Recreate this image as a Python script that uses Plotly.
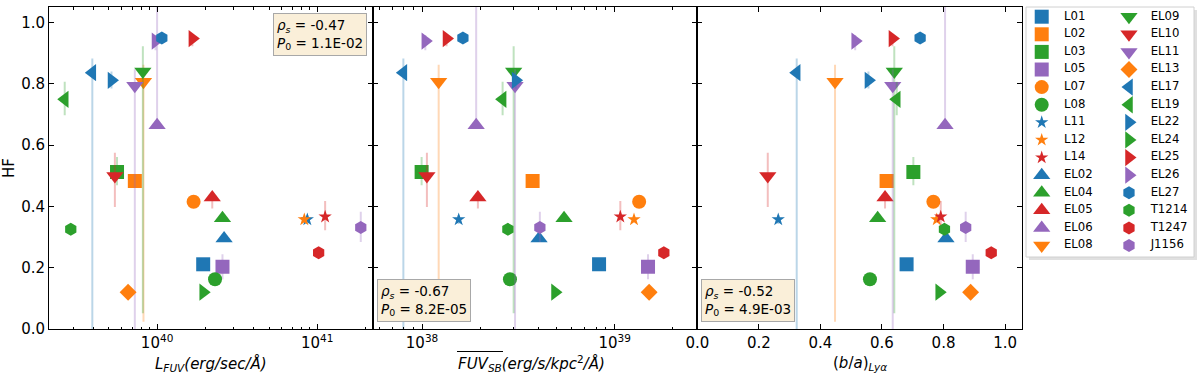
import plotly.graph_objects as go

# ---- data ----
names = ['L01', 'L02', 'L03', 'L05', 'L07', 'L08', 'L11', 'L12', 'L14',
         'EL02', 'EL04', 'EL05', 'EL06', 'EL08', 'EL09', 'EL10', 'EL11', 'EL13',
         'EL17', 'EL19', 'EL22', 'EL24', 'EL25', 'EL26', 'EL27',
         'T1214', 'T1247', 'J1156']
symbols = ['square', 'square', 'square', 'square', 'circle', 'circle', 'star', 'star', 'star',
           'triangle-up', 'triangle-up', 'triangle-up', 'triangle-up', 'triangle-down',
           'triangle-down', 'triangle-down', 'triangle-down', 'diamond',
           'triangle-left', 'triangle-left', 'triangle-right', 'triangle-right',
           'triangle-right', 'triangle-right', 'hexagon', 'hexagon', 'hexagon', 'hexagon']
colors = ['#1f77b4', '#ff7f0e', '#2ca02c', '#9467bd', '#ff7f0e', '#2ca02c', '#1f77b4', '#ff7f0e', '#d62728',
          '#1f77b4', '#2ca02c', '#d62728', '#9467bd', '#ff7f0e', '#2ca02c', '#d62728', '#9467bd', '#ff7f0e',
          '#1f77b4', '#2ca02c', '#1f77b4', '#2ca02c', '#d62728', '#9467bd', '#1f77b4',
          '#2ca02c', '#d62728', '#9467bd']

hf = [0.211, 0.483, 0.512, 0.203, 0.415, 0.162, 0.357, 0.357, 0.366,
      0.295, 0.361, 0.429, 0.664, 0.806, 0.840, 0.499, 0.793, 0.120,
      0.836, 0.749, 0.811, 0.120, 0.947, 0.939, 0.949,
      0.325, 0.249, 0.331]
hf_err_hi = [0.0, 0.0, 0.049, 0.041, 0.0, 0.0, 0.015, 0.0, 0.051,
             0.0, 0.0, 0.018, 0.60, 0.056, 0.082, 0.076, 0.054, 0.0,
             0.046, 0.057, 0.029, 0.0, 0.015, 0.020, 0.0,
             0.0, 0.0, 0.051]
hf_err_lo = [0.0, 0.0, 0.043, 0.041, 0.0, 0.0, 0.015, 0.0, 0.044,
             0.0, 0.0, 0.036, 0.010, 0.782, 0.789, 0.101, 1.0, 0.0,
             1.0, 0.052, 0.027, 0.0, 0.025, 0.030, 0.0,
             0.0, 0.0, 0.047]

l_fuv = [1.94e40, 7.26e39, 5.62e39, 2.56e40, 1.69e40, 2.30e40, 8.67e40, 8.30e40, 1.12e41,
         2.62e40, 2.56e40, 2.21e40, 1.00e40, 8.22e39, 8.15e39, 5.45e39, 7.26e39, 6.59e39,
         3.94e39, 2.65e39, 5.19e39, 1.94e40, 1.66e40, 9.77e39, 1.07e40,
         2.89e39, 1.02e41, 1.87e41]
fuv_sb = [8.30e38, 3.75e38, 9.95e37, 1.49e39, 1.34e39, 2.86e38, 1.55e38, 1.26e39, 1.07e39,
          4.05e38, 5.46e38, 1.95e38, 1.91e38, 1.22e38, 2.99e38, 1.06e38, 3.04e38, 1.51e39,
          8.00e37, 2.62e38, 3.06e38, 4.90e38, 1.34e38, 1.04e38, 1.63e38,
          2.79e38, 1.80e39, 4.09e38]
ba_lya = [0.680, 0.615, 0.702, 0.895, 0.767, 0.561, 0.263, 0.778, 0.791,
          0.808, 0.586, 0.610, 0.805, 0.4475, 0.640, 0.229, 0.635, 0.888,
          0.323, 0.648, 0.556, 0.786, 0.634, 0.513, 0.724,
          0.803, 0.955, 0.872]

rho_s = ['-0.47', '-0.67', '-0.52']
p_0 = ['1.1E-02', '8.2E-05', '4.9E-03']

x_titles = ['<i>L</i><sub><i>FUV</i></sub><i>(erg/sec/Å)</i>',
            '<i>FUV</i><sub><i>SB</i></sub><i>(erg/s/kpc</i><sup>2</sup><i>/Å)</i>',
            '(<i>b</i>/<i>a</i>)<sub><i>Lyα</i></sub>']
log_tickvals = [[1e40, 1e41], [1e38, 1e39]]
log_ticktext = [['10<sup>40</sup>', '10<sup>41</sup>'], ['10<sup>38</sup>', '10<sup>39</sup>']]
ba_ticks = [0.0, 0.2, 0.4, 0.6, 0.8, 1.0]
hf_ticks = [0.0, 0.2, 0.4, 0.6, 0.8, 1.0]

marker_sizes = {'square': 14, 'circle': 14, 'star': 10, 'triangle-up': 15, 'triangle-down': 15,
                'triangle-left': 15, 'triangle-right': 15, 'diamond': 13, 'hexagon': 13}


def rgba(hex_color, a):
    h = hex_color.lstrip('#')
    return 'rgba(%d,%d,%d,%.2f)' % (int(h[0:2], 16), int(h[2:4], 16), int(h[4:6], 16), a)


# ---- page geometry (px) ----
W, H = 1200, 374
ml, mr, mt, mb = 49, 6, 7, 45
pw = W - ml - mr
ph = H - mt - mb
edges = [49, 373.3, 697.3, 1021.7]
dom = [(e - ml) / pw for e in edges]
leg_x = [(1026 - ml) / pw, 1.0]
leg_y = [(H - mb - 257) / ph, 1.0]

FONT = 'DejaVu Sans'
fig = go.Figure()

xs_per_panel = [l_fuv, fuv_sb, ba_lya]
for p, xs in enumerate(xs_per_panel):
    xa = 'x' if p == 0 else 'x%d' % (p + 1)
    ya = 'y' if p == 0 else 'y%d' % (p + 1)
    for i, name in enumerate(names):
        fig.add_trace(go.Scatter(
            x=[xs[i]], y=[hf[i]], xaxis=xa, yaxis=ya, mode='markers', name=name,
            showlegend=False,
            marker=dict(symbol=symbols[i], color=colors[i], size=marker_sizes[symbols[i]],
                        line=dict(width=0)),
            error_y=dict(type='data', symmetric=False, array=[hf_err_hi[i]],
                         arrayminus=[hf_err_lo[i]], color=rgba(colors[i], 0.3),
                         thickness=2, width=0, visible=(hf_err_hi[i] + hf_err_lo[i]) > 0),
        ))

# hand-drawn two-column legend on its own hidden axes
n_rows = 14
leg_cols = [divmod(i, n_rows)[0] for i in range(len(names))]
leg_rows = [divmod(i, n_rows)[1] for i in range(len(names))]
for i, name in enumerate(names):
    fig.add_trace(go.Scatter(
        x=[[0.0935, 0.613][leg_cols[i]]], y=[leg_rows[i]], xaxis='x4', yaxis='y4', mode='markers',
        showlegend=False, hoverinfo='skip',
        marker=dict(symbol=symbols[i], color=colors[i], size=marker_sizes[symbols[i]],
                    line=dict(width=0)),
    ))
fig.add_trace(go.Scatter(
    x=[[0.226, 0.742][c] for c in leg_cols], y=leg_rows, xaxis='x4', yaxis='y4',
    mode='text', text=names, textposition='middle right', showlegend=False, hoverinfo='skip',
    textfont=dict(family=FONT, size=11.7, color='black'),
))

axis_common = dict(showline=True, linecolor='black', linewidth=1, mirror='ticks',
                   ticks='inside', ticklen=5, tickwidth=1, tickcolor='black',
                   showgrid=False, zeroline=False, automargin=False,
                   tickfont=dict(family=FONT, size=15, color='black'))


def minor_vals(lo, hi):
    out = []
    for d in range(lo, hi + 1):
        for m in range(2, 10):
            out.append(m * 10.0 ** d)
    return out


layout_axes = {}
layout_axes['xaxis'] = dict(axis_common, domain=[dom[0], dom[1]], type='log', range=[39.325, 41.35],
                            tickmode='array', tickvals=log_tickvals[0], ticktext=log_ticktext[0],
                            minor=dict(ticks='inside', ticklen=2.5, tickcolor='black',
                                       tickmode='array', tickvals=minor_vals(39, 41)),
                            anchor='y')
layout_axes['xaxis2'] = dict(axis_common, domain=[dom[1], dom[2]], type='log', range=[37.747, 39.429],
                             tickmode='array', tickvals=log_tickvals[1], ticktext=log_ticktext[1],
                             minor=dict(ticks='inside', ticklen=2.5, tickcolor='black',
                                        tickmode='array', tickvals=minor_vals(37, 39)),
                             anchor='y2')
layout_axes['xaxis3'] = dict(axis_common, domain=[dom[2], dom[3]], range=[0, 1.054],
                             tickmode='array', tickvals=ba_ticks, ticktext=['%.1f' % t for t in ba_ticks],
                             anchor='y3')
layout_axes['yaxis'] = dict(axis_common, domain=[0, 1], range=[0, 1.05], anchor='x',
                            tickmode='array', tickvals=hf_ticks, ticktext=['%.1f' % t for t in hf_ticks])
layout_axes['yaxis2'] = dict(axis_common, domain=[0, 1], range=[0, 1.05], anchor='x2',
                             tickmode='array', tickvals=hf_ticks, showticklabels=False)
layout_axes['yaxis3'] = dict(axis_common, domain=[0, 1], range=[0, 1.05], anchor='x3',
                             tickmode='array', tickvals=hf_ticks, showticklabels=False)
layout_axes['xaxis4'] = dict(domain=leg_x, range=[0, 1], visible=False, anchor='y4', automargin=False)
layout_axes['yaxis4'] = dict(domain=leg_y, range=[13.65, -0.551], visible=False, anchor='x4', automargin=False)

fig.update_layout(**layout_axes)

# axis titles placed as paper annotations
title_y = -(363.5 - (H - mb)) / ph
title_pos = [dict(x=(dom[0] + dom[1]) / 2, xanchor='center'),
             dict(x=(456 - ml) / pw, xanchor='left'),
             dict(x=(dom[2] + dom[3]) / 2, xanchor='center')]
for p in range(3):
    fig.add_annotation(xref='paper', yref='paper', y=title_y, yanchor='middle',
                       text=x_titles[p], showarrow=False,
                       font=dict(family=FONT, size=15, color='black'), **title_pos[p])
# overline across FUV_SB (one bar, as in the mathtext label)
fig.add_shape(type='line', xref='paper', yref='paper',
              x0=(457 - ml) / pw, x1=(503 - ml) / pw,
              y0=-(351.5 - (H - mb)) / ph, y1=-(351.5 - (H - mb)) / ph,
              line=dict(color='black', width=1))
fig.add_annotation(xref='paper', yref='paper', x=(9 - ml) / pw, y=0.5, text='HF', textangle=-90,
                   showarrow=False, xanchor='center', yanchor='middle',
                   font=dict(family=FONT, size=15, color='black'))

# legend frame with a soft shadow
fig.add_shape(type='rect', xref='paper', yref='paper', layer='below',
              x0=leg_x[0] + 3 / pw, x1=leg_x[1] + 3 / pw, y0=leg_y[0] - 3 / ph, y1=leg_y[1] - 3 / ph,
              line=dict(width=0), fillcolor='rgba(0,0,0,0.12)')
fig.add_shape(type='rect', xref='paper', yref='paper', layer='below',
              x0=leg_x[0], x1=leg_x[1], y0=leg_y[0], y1=leg_y[1],
              line=dict(color='#d0d0d0', width=1), fillcolor='white')

# spearman boxes
box_pos = [dict(x=0.98, y=0.981, xanchor='right', yanchor='top'),
           dict(x=0.0105, y=0.022, xanchor='left', yanchor='bottom'),
           dict(x=0.0105, y=0.022, xanchor='left', yanchor='bottom')]
for p in range(3):
    sfx = '' if p == 0 else str(p + 1)
    fig.add_annotation(xref='x%s domain' % sfx, yref='y%s domain' % sfx, showarrow=False, align='left',
                       text='<i>ρ</i><sub><i>s</i></sub> = %s<br><i>P</i><sub>0</sub> = %s' % (rho_s[p], p_0[p]),
                       bgcolor='#faefd9', bordercolor='#a8a8a8', borderwidth=1, borderpad=3,
                       font=dict(family=FONT, size=13.5, color='black'), **box_pos[p])

fig.update_layout(width=W, height=H, margin=dict(l=ml, r=mr, t=mt, b=mb, autoexpand=False),
                  paper_bgcolor='white', plot_bgcolor='rgba(0,0,0,0)',
                  font=dict(family=FONT, color='black'), showlegend=False)

# the page's default body margin would push the figure 8px down/right
fig.write_html("out.html", config={'displayModeBar': False},
               post_script="document.body.style.margin='0';")
